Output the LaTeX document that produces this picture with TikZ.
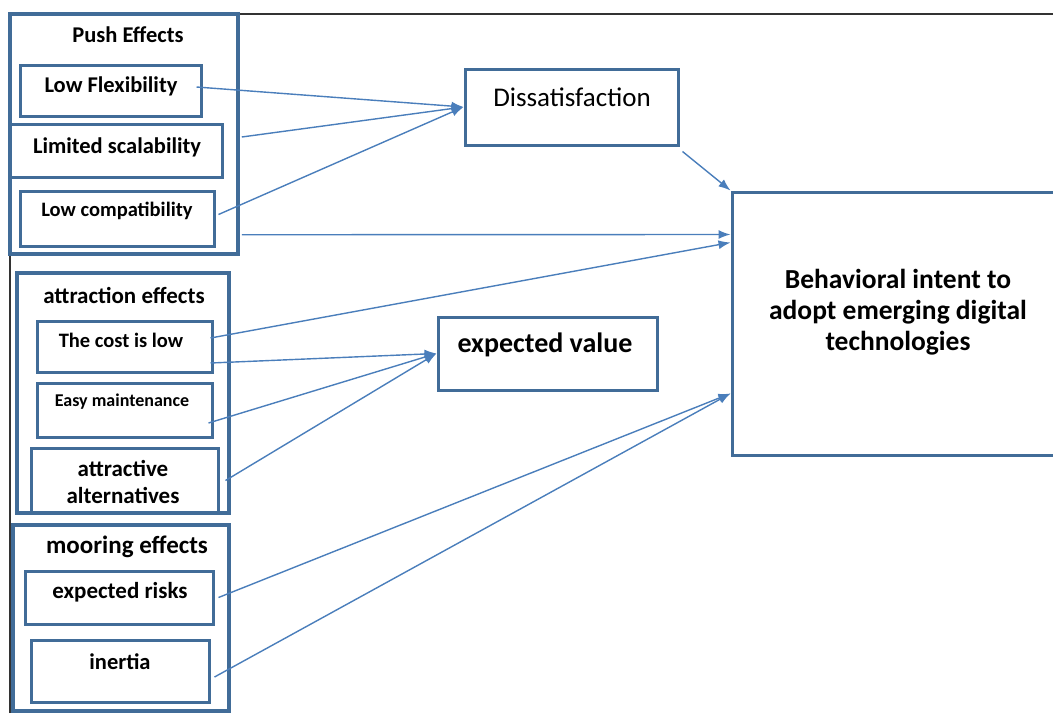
\documentclass[tikz,border=0pt]{standalone}
\usepackage{fontspec}
\setmainfont{Carlito}
\usepackage{xcolor}
\usetikzlibrary{arrows.meta}

\definecolor{boxblue}{RGB}{65,108,152}
\definecolor{arrowblue}{RGB}{74,126,187}

\begin{document}
\begin{tikzpicture}[x=1pt,y=-1pt,
		box/.style={draw=boxblue,line width=3pt,rectangle,inner sep=0pt,fill=none},
		outerbox/.style={box,line width=3.5pt},
		lbl/.style={inner sep=0pt,align=center,font=\bfseries\fontsize{#1}{#1}\selectfont},
		link/.style={arrowblue,line width=1.4pt,-{Latex[length=12pt,width=9pt]}}]
			\useasboundingbox (0,0) rectangle (1053,713);
			\draw[black!80,line width=1.5pt] (10,713) -- (10,14) -- (1053,14);
			% push effects
			\node[outerbox,minimum width=228,minimum height=240] (push) at (124,134) {};
			\node[box,minimum width=181,minimum height=51] (lowflex) at (110.5,90.5) {};
			\node[box,minimum width=212,minimum height=53] (limscal) at (116,150.5) {};
			\node[box,minimum width=194,minimum height=55] (lowcomp) at (117,218.5) {};
			\node[lbl=22.5] (pushlbl) at (128,35) {Push Effects};
			\node[lbl=22.5] (lowflexlbl) at (111,86) {Low Flexibility};
			\node[lbl=22.5] (limscallbl) at (117,147) {Limited scalability};
			\node[lbl=20.5] (lowcomplbl) at (117,211) {Low compatibility};
			% attraction effects
			\node[outerbox,minimum width=212,minimum height=240] (attr) at (123,393) {};
			\node[box,minimum width=175,minimum height=51] (cost) at (124.5,346.5) {};
			\node[box,minimum width=175,minimum height=54] (easy) at (124.5,410) {};
			\node[box,minimum width=187,minimum height=65] (altern) at (124.5,480.5) {};
			\node[lbl=23] (attrlbl) at (124,295) {attraction effects};
			\node[lbl=20.5] (costlbl) at (121,340) {The cost is low};
			\node[lbl=18] (easylbl) at (122,402) {Easy maintenance};
			\node[lbl=23] (alternlbl) at (123,482) {attractive\\[4pt]alternatives};
			% mooring effects
			\node[outerbox,minimum width=216,minimum height=186] (moor) at (121,618) {};
			\node[box,minimum width=188,minimum height=53] (risks) at (119,597.5) {};
			\node[box,minimum width=178,minimum height=62] (inertia) at (120,671) {};
			\node[lbl=25] (moorlbl) at (127,547) {mooring effects};
			\node[lbl=23] (riskslbl) at (120,592) {expected risks};
			\node[lbl=22.5] (inertialbl) at (120,662) {inertia};
			% outcomes
			\node[box,minimum width=213,minimum height=76] (diss) at (571.5,107) {};
			\node[inner sep=0pt,font=\fontsize{27}{27}\selectfont] (disslbl) at (572,97) {Dissatisfaction};
			\node[box,minimum width=219,minimum height=73] (expval) at (547.5,353.5) {};
			\node[lbl=28] (expvallbl) at (545,345) {expected value};
			\node[box,minimum width=326,minimum height=263] (behav) at (895,323.5) {};
			\node[lbl=27.5] (behavlbl) at (898,312) {Behavioral intent to\\[3.5pt]adopt emerging digital\\[3.5pt]technologies};
			% links
			\draw[link] ([xshift=-6pt,yshift=3.5pt]lowflex.east) -- (diss.west);
			\draw[link] ([xshift=2pt,yshift=-3pt]push.east) -- (diss.west);
			\draw[link] ([xshift=3pt,yshift=4pt]lowcomp.east) -- (diss.west);
			\draw[link] ([xshift=2pt,yshift=21pt]push.south east) -- ([yshift=-44pt]behav.north west);
			\draw[link] ([xshift=3pt,yshift=-5pt]diss.south east) -- (behav.north west);
			\draw[link] ([xshift=-3pt,yshift=8.5pt]cost.east) -- ([yshift=-52pt]behav.north west);
			\draw[link] ([xshift=-3pt,yshift=-16.5pt]cost.east) -- (expval.west);
			\draw[link] ([xshift=-5pt,yshift=-13pt]easy.east) -- (expval.west);
			\draw[link] ([xshift=6pt]altern.east) -- (expval.west);
			\draw[link] ([xshift=4pt]risks.east) -- ([yshift=-203pt]behav.north west);
			\draw[link] ([xshift=4pt,yshift=-6pt]inertia.east) -- ([yshift=-203pt]behav.north west);
		\end{tikzpicture}
\end{document}
